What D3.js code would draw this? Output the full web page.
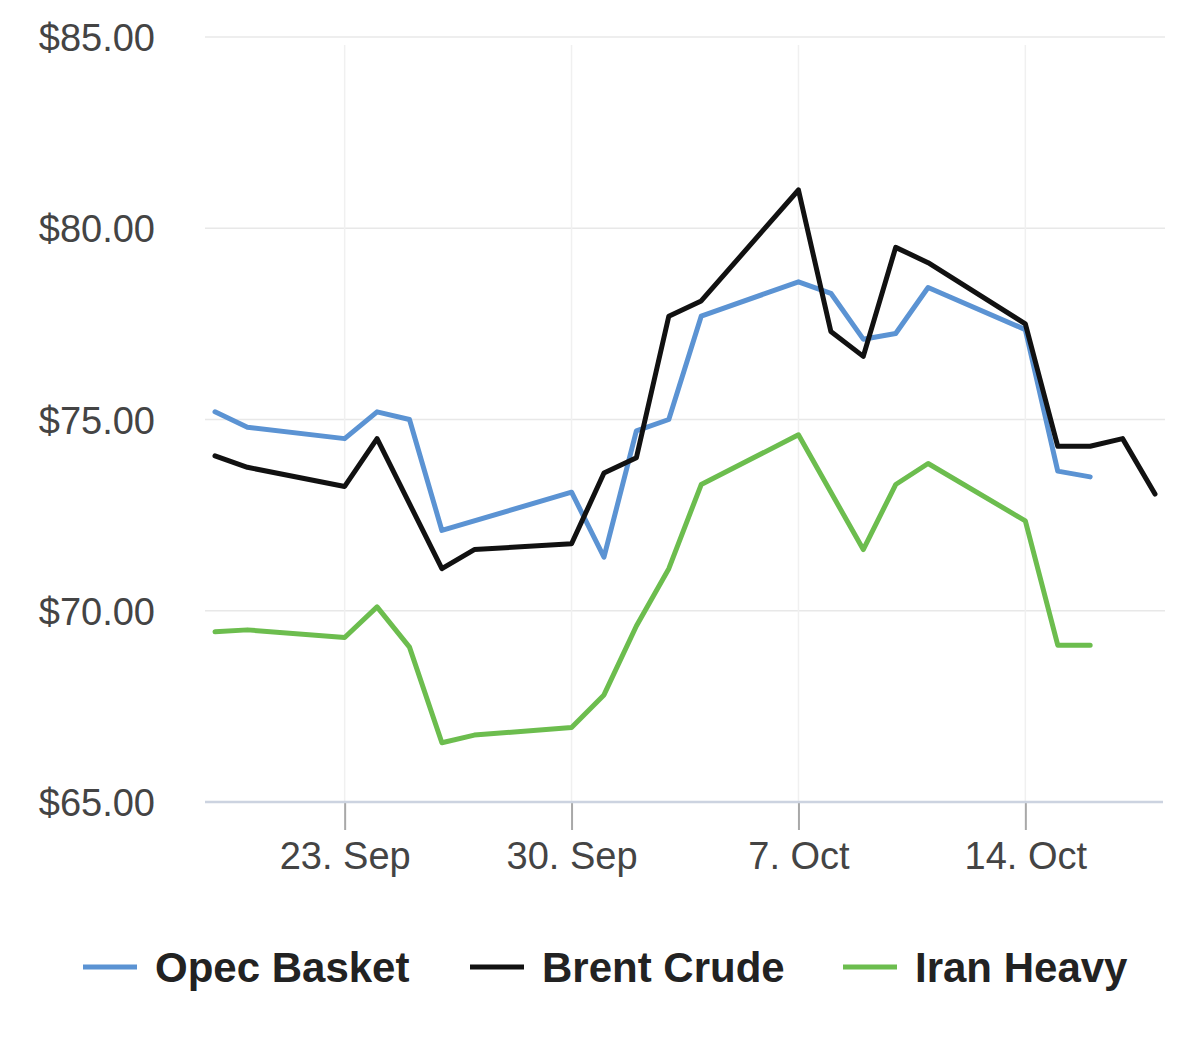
<!DOCTYPE html>
<html>
<head>
<meta charset="utf-8">
<script src="https://cdn.jsdelivr.net/npm/d3@7"></script>
<style>
  html, body { margin: 0; padding: 0; background: #fff; }
  svg { display: block; }
  text { font-family: "Liberation Sans", Arial, sans-serif; }
</style>
</head>
<body>
<svg id="chart" width="1200" height="1059"></svg>
<script>
// ---- Data ----
const opecDates  = ["2024-09-19","2024-09-20","2024-09-23","2024-09-24","2024-09-25","2024-09-26","2024-09-30","2024-10-01","2024-10-02","2024-10-03","2024-10-04","2024-10-07","2024-10-08","2024-10-09","2024-10-10","2024-10-11","2024-10-14","2024-10-15","2024-10-16"];
const opecValues = [75.2, 74.8, 74.5, 75.2, 75.0, 72.1, 73.1, 71.4, 74.7, 75.0, 77.7, 78.6, 78.3, 77.1, 77.25, 78.45, 77.35, 73.65, 73.5];

const brentDates  = ["2024-09-19","2024-09-20","2024-09-23","2024-09-24","2024-09-26","2024-09-27","2024-09-30","2024-10-01","2024-10-02","2024-10-03","2024-10-04","2024-10-07","2024-10-08","2024-10-09","2024-10-10","2024-10-11","2024-10-14","2024-10-15","2024-10-16","2024-10-17","2024-10-18"];
const brentValues = [74.05, 73.75, 73.25, 74.5, 71.1, 71.6, 71.75, 73.6, 74.0, 77.7, 78.1, 81.0, 77.3, 76.65, 79.5, 79.1, 77.5, 74.3, 74.3, 74.5, 73.05];

const iranDates  = ["2024-09-19","2024-09-20","2024-09-23","2024-09-24","2024-09-25","2024-09-26","2024-09-27","2024-09-30","2024-10-01","2024-10-02","2024-10-03","2024-10-04","2024-10-07","2024-10-09","2024-10-10","2024-10-11","2024-10-14","2024-10-15","2024-10-16"];
const iranValues = [69.45, 69.5, 69.3, 70.1, 69.05, 66.55, 66.75, 66.95, 67.8, 69.6, 71.1, 73.3, 74.6, 71.6, 73.3, 73.85, 72.35, 69.1, 69.1];

const seriesNames  = ["Opec Basket", "Brent Crude", "Iran Heavy"];
const seriesColors = ["#5b93d3", "#111111", "#6cbd4e"];

const yTickValues = [65, 70, 75, 80, 85];
const xTickDates  = ["2024-09-23","2024-09-30","2024-10-07","2024-10-14"];
const xTickLabels = ["23. Sep", "30. Sep", "7. Oct", "14. Oct"];

// ---- Setup ----
const parse = d3.utcParse("%Y-%m-%d");
const svg = d3.select("#chart");

const x = d3.scaleUtc()
  .domain([parse("2024-09-19"), parse("2024-10-18")])
  .range([215, 1155]);
const y = d3.scaleLinear().domain([65, 85]).range([802, 37]);

const plotLeft = 205, plotRight = 1165;

// Horizontal grid
svg.append("g").selectAll("line")
  .data(yTickValues.filter(v => v !== 65))
  .join("line")
  .attr("x1", plotLeft).attr("x2", plotRight)
  .attr("y1", d => y(d)).attr("y2", d => y(d))
  .attr("stroke", "#e8e8e8").attr("stroke-width", 1.5);

// Vertical grid
svg.append("g").selectAll("line")
  .data(xTickDates.map(parse))
  .join("line")
  .attr("x1", d => x(d)).attr("x2", d => x(d))
  .attr("y1", 45).attr("y2", 802)
  .attr("stroke", "#f0f0f0").attr("stroke-width", 1.5);

// Y axis labels
const yAxis = d3.axisLeft(y).tickValues(yTickValues)
  .tickFormat(d => "$" + d3.format(".2f")(d)).tickSize(0).tickPadding(0);
const yg = svg.append("g").attr("transform", "translate(155,0)").call(yAxis);
yg.select(".domain").remove();
yg.selectAll("text")
  .attr("font-size", 38).attr("fill", "#444")
  .attr("font-family", "'Liberation Sans', Arial, sans-serif")
  .attr("dy", "0.36em");

// X axis
const xAxis = d3.axisBottom(x)
  .tickValues(xTickDates.map(parse))
  .tickFormat((d, i) => xTickLabels[i])
  .tickSize(28).tickPadding(12);
const xg = svg.append("g").attr("transform", "translate(0,802)").call(xAxis);
xg.select(".domain").remove();
xg.selectAll(".tick line").attr("stroke", "#a8a8a8").attr("stroke-width", 2);
xg.selectAll("text")
  .attr("font-size", 38).attr("fill", "#444")
  .attr("font-family", "'Liberation Sans', Arial, sans-serif")
  .attr("dy", "0.71em");
svg.append("line")
  .attr("x1", plotLeft).attr("x2", 1163)
  .attr("y1", 802).attr("y2", 802)
  .attr("stroke", "#ccd3e0").attr("stroke-width", 2.5);

// Lines
const series = [
  { name: seriesNames[0], color: seriesColors[0], pts: opecDates.map((d, i) => [parse(d), opecValues[i]]) },
  { name: seriesNames[1], color: seriesColors[1], pts: brentDates.map((d, i) => [parse(d), brentValues[i]]) },
  { name: seriesNames[2], color: seriesColors[2], pts: iranDates.map((d, i) => [parse(d), iranValues[i]]) }
];
const line = d3.line().x(d => x(d[0])).y(d => y(d[1]));

svg.append("g").selectAll("path")
  .data(series)
  .join("path")
  .attr("d", d => line(d.pts))
  .attr("fill", "none")
  .attr("stroke", d => d.color)
  .attr("stroke-width", 5)
  .attr("stroke-linejoin", "round")
  .attr("stroke-linecap", "round");

// Legend
const legendX = [83, 470, 843];
const lg = svg.append("g").selectAll("g")
  .data(series)
  .join("g")
  .attr("transform", (d, i) => `translate(${legendX[i]},967)`);
lg.append("line")
  .attr("x1", 0).attr("x2", 54).attr("y1", 0).attr("y2", 0)
  .attr("stroke", d => d.color).attr("stroke-width", 5);
lg.append("text")
  .attr("x", 72).attr("y", 0).attr("dy", "0.35em")
  .attr("font-size", 42).attr("font-weight", "bold").attr("fill", "#222")
  .text(d => d.name);
</script>
</body>
</html>
